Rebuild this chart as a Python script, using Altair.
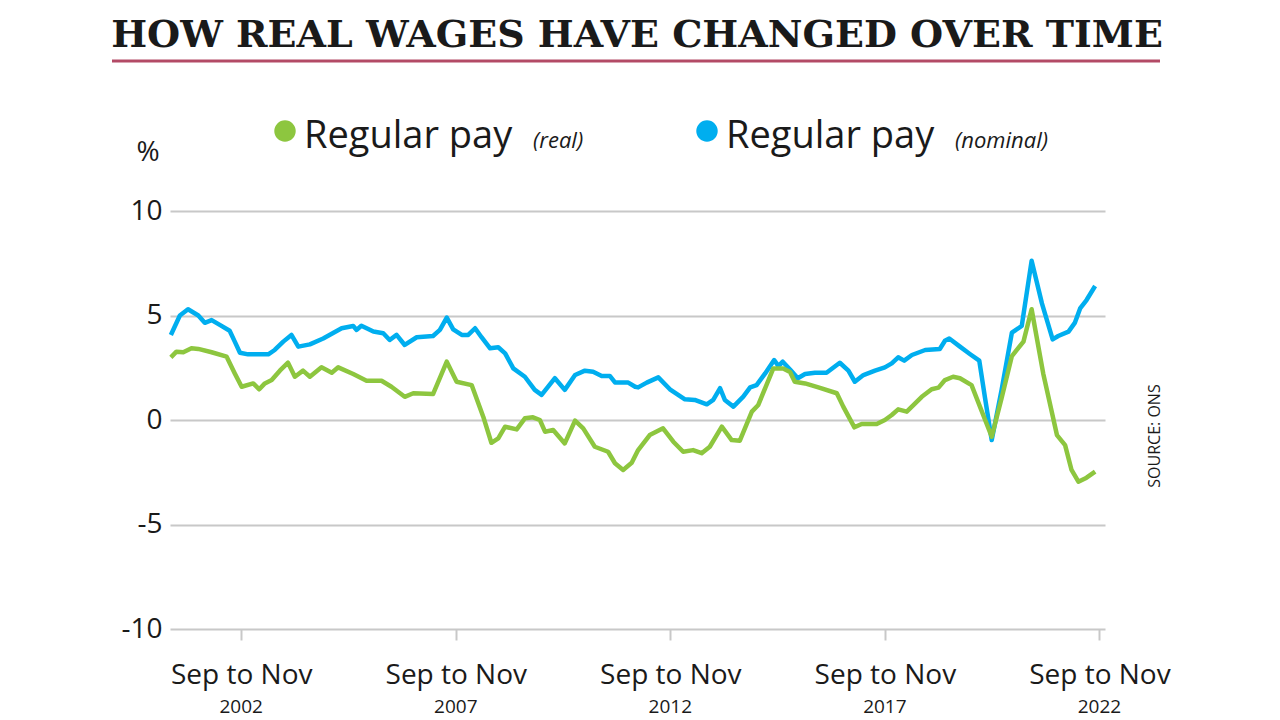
import altair as alt
import pandas as pd

# ---- data (decimal year of 3-month period centre, % change) ----
nominal_x = [2001.15, 2001.36, 2001.55, 2001.79, 2001.94, 2002.10, 2002.29, 2002.52, 2002.64, 2002.76,
             2002.95, 2003.42, 2003.57, 2003.77, 2003.96, 2004.12, 2004.39, 2004.70, 2005.13, 2005.40,
             2005.48, 2005.59, 2005.87, 2006.10, 2006.25, 2006.41, 2006.60, 2006.88, 2007.26, 2007.42,
             2007.58, 2007.73, 2007.93, 2008.08, 2008.24, 2008.39, 2008.59, 2008.78, 2008.94, 2009.13,
             2009.40, 2009.63, 2009.79, 2010.10, 2010.33, 2010.57, 2010.80, 2010.99, 2011.19, 2011.38,
             2011.50, 2011.81, 2011.97, 2012.04, 2012.24, 2012.51, 2012.78, 2013.13, 2013.36, 2013.64,
             2013.79, 2013.95, 2014.06, 2014.26, 2014.49, 2014.65, 2014.80, 2015.00, 2015.21, 2015.31,
             2015.41, 2015.58, 2015.76, 2015.93, 2016.16, 2016.43, 2016.74, 2016.94, 2017.09, 2017.29,
             2017.56, 2017.79, 2017.95, 2018.10, 2018.24, 2018.42, 2018.73, 2019.07, 2019.19, 2019.29,
             2019.54, 2019.77, 2019.99, 2020.12, 2020.28, 2020.51, 2020.75, 2020.98, 2021.21, 2021.45,
             2021.70, 2021.83, 2022.07, 2022.22, 2022.34, 2022.49, 2022.69]
nominal_y = [4.07, 5.0, 5.3, 5.0, 4.65, 4.78, 4.55, 4.27, 3.75, 3.22,
             3.14, 3.14, 3.35, 3.75, 4.07, 3.51, 3.62, 3.9, 4.39, 4.5,
             4.31, 4.51, 4.23, 4.15, 3.83, 4.07, 3.59, 3.96, 4.02, 4.31,
             4.9, 4.34, 4.07, 4.07, 4.39, 3.96, 3.43, 3.48, 3.19, 2.47,
             2.07, 1.44, 1.2, 2.0, 1.44, 2.15, 2.36, 2.31, 2.11, 2.11,
             1.80, 1.79, 1.59, 1.56, 1.79, 2.04, 1.47, 0.99, 0.96, 0.75,
             0.96, 1.52, 0.96, 0.64, 1.12, 1.56, 1.67, 2.23, 2.87, 2.58,
             2.79, 2.42, 2.0, 2.2, 2.26, 2.26, 2.74, 2.36, 1.83, 2.15,
             2.36, 2.52, 2.71, 3.0, 2.84, 3.11, 3.35, 3.4, 3.79, 3.9,
             3.51, 3.16, 2.84, 1.11, -0.96, 1.44, 4.18, 4.5, 7.62, 5.58,
             3.86, 4.02, 4.23, 4.66, 5.34, 5.74, 6.41]

real_x = [2001.15, 2001.28, 2001.44, 2001.63, 2001.79, 2002.10, 2002.45, 2002.64, 2002.80, 2003.07,
          2003.21, 2003.34, 2003.50, 2003.69, 2003.88, 2004.04, 2004.23, 2004.39, 2004.66, 2004.90,
          2005.05, 2005.40, 2005.71, 2006.06, 2006.29, 2006.60, 2006.80, 2007.26, 2007.58, 2007.81,
          2008.16, 2008.43, 2008.62, 2008.78, 2008.94, 2009.21, 2009.40, 2009.59, 2009.75, 2009.87,
          2010.06, 2010.33, 2010.57, 2010.76, 2011.03, 2011.34, 2011.50, 2011.69, 2011.89, 2012.04,
          2012.31, 2012.62, 2012.86, 2013.09, 2013.32, 2013.52, 2013.71, 2013.99, 2014.22, 2014.41,
          2014.69, 2014.84, 2015.19, 2015.42, 2015.58, 2015.69, 2015.93, 2016.24, 2016.67, 2016.82,
          2017.08, 2017.25, 2017.60, 2017.79, 2017.95, 2018.10, 2018.30, 2018.65, 2018.88, 2019.04,
          2019.19, 2019.38, 2019.54, 2019.81, 2020.28, 2020.51, 2020.75, 2021.02, 2021.21, 2021.48,
          2021.80, 2021.99, 2022.14, 2022.30, 2022.49, 2022.69]
real_y = [3.0, 3.27, 3.24, 3.43, 3.40, 3.24, 3.03, 2.23, 1.59, 1.75,
          1.47, 1.75, 1.91, 2.36, 2.74, 2.07, 2.36, 2.07, 2.52, 2.26,
          2.52, 2.2, 1.88, 1.88, 1.59, 1.11, 1.28, 1.24, 2.79, 1.83,
          1.67, 0.16, -1.09, -0.88, -0.32, -0.45, 0.08, 0.13, 0.0, -0.56,
          -0.48, -1.12, -0.03, -0.4, -1.28, -1.52, -2.07, -2.39, -2.05, -1.44,
          -0.72, -0.4, -1.04, -1.52, -1.44, -1.59, -1.28, -0.32, -0.96, -0.99,
          0.4, 0.72, 2.47, 2.47, 2.3, 1.83, 1.75, 1.56, 1.28, 0.64,
          -0.35, -0.19, -0.19, 0.0, 0.24, 0.51, 0.4, 1.11, 1.47, 1.55,
          1.91, 2.07, 2.0, 1.67, -0.8, 1.04, 3.06, 3.75, 5.3, 2.23,
          -0.72, -1.2, -2.39, -2.95, -2.76, -2.47]

tick_years = ["2002", "2007", "2012", "2017", "2022"]
tick_pos = [2002.79, 2007.79, 2012.79, 2017.79, 2022.79]
y_ticks = [-10, -5, 0, 5, 10]

GREEN = "#8dc63f"
BLUE = "#00aeef"
INK = "#1a1a1a"
GRID = "#c8c8c8"
FONT = "Open Sans"

W, H = 935, 418

df_nom = pd.DataFrame({"x": nominal_x, "value": nominal_y})
df_real = pd.DataFrame({"x": real_x, "value": real_y})

xscale = alt.Scale(domain=[2001.13, 2022.92], nice=False, zero=False)
yscale = alt.Scale(domain=[-10, 10], nice=False)

x_axis = alt.Axis(values=tick_pos, labelExpr="'Sep to Nov'", grid=False, domain=False,
                  ticks=True, tickSize=11, tickColor=GRID, tickWidth=2,
                  labelFont=FONT, labelFontSize=28, labelColor=INK, labelPadding=21,
                  labelBaseline="top", title=None)
y_axis = alt.Axis(values=y_ticks, labelExpr="'' + datum.value", grid=True, gridColor=GRID,
                  gridWidth=2, domain=False, ticks=False, labelFont=FONT, labelFontSize=28,
                  labelColor=INK, labelPadding=8, title=None)

nom_line = alt.Chart(df_nom).mark_line(color=BLUE, strokeWidth=4.5, strokeJoin="round").encode(
    x=alt.X("x:Q", scale=xscale, axis=x_axis),
    y=alt.Y("value:Q", scale=yscale, axis=y_axis),
)
real_line = alt.Chart(df_real).mark_line(color=GREEN, strokeWidth=4.5, strokeJoin="round").encode(
    x=alt.X("x:Q", scale=xscale),
    y=alt.Y("value:Q", scale=yscale),
)

years = alt.Chart(pd.DataFrame({"x": tick_pos, "label": tick_years})).mark_text(
    font=FONT, fontSize=19, color=INK, baseline="middle", align="center"
).encode(x=alt.X("x:Q", scale=xscale), y=alt.value(H + 78), text="label:N")

one = pd.DataFrame({"a": [0]})

def txt(s, x, y, size, **kw):
    return alt.Chart(one).mark_text(text=s, fontSize=size, **kw).encode(
        x=alt.value(x), y=alt.value(y))

title = txt("HOW REAL WAGES HAVE CHANGED OVER TIME", 467, -164, 38,
            font="DejaVu Serif", fontWeight="bold", color=INK, align="center", baseline="alphabetic")
red_rule = alt.Chart(one).mark_rule(color="#b34a66", strokeWidth=3).encode(
    x=alt.value(-58), x2=alt.value(990), y=alt.value(-150))

dots = alt.Chart(pd.DataFrame({"cx": [115, 537], "c": [GREEN, BLUE]})).mark_circle(
    size=460, opacity=1).encode(x=alt.X("cx:Q", scale=None), y=alt.value(-80),
                                color=alt.Color("c:N", scale=None))

leg1 = txt("Regular pay", 134, -63, 38, font=FONT, color=INK, align="left", baseline="alphabetic")
leg1b = txt("(real)", 363, -63, 22, font=FONT, fontStyle="italic", color=INK, align="left",
            baseline="alphabetic")
leg2 = txt("Regular pay", 556, -63, 38, font=FONT, color=INK, align="left", baseline="alphabetic")
leg2b = txt("(nominal)", 785, -63, 22, font=FONT, fontStyle="italic", color=INK, align="left",
            baseline="alphabetic")
pct = txt("%", -22, -58, 28, font=FONT, color=INK, align="center", baseline="middle")
source = txt("SOURCE: ONS", 985, 225, 16, font=FONT, color=INK, align="center",
             baseline="middle", angle=270)

chart = alt.layer(
    nom_line, real_line, years, title, red_rule, dots, leg1, leg1b, leg2, leg2b, pct, source
).properties(
    width=W, height=H,
    autosize=alt.AutoSizeParams(type="none"),
    padding={"left": 170, "top": 211, "right": 175, "bottom": 91},
    background="white",
).configure_view(stroke=None)

chart.save("out.html", embed_options={"renderer": "svg", "actions": False})
